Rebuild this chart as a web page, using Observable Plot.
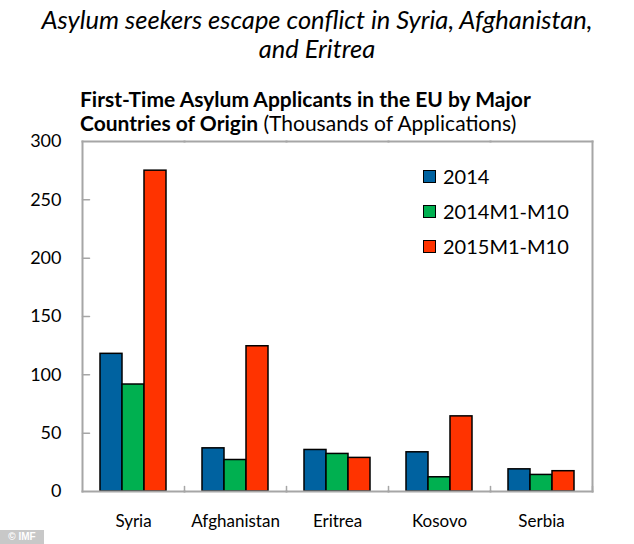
<!DOCTYPE html>
<html>
<head>
<meta charset="utf-8">
<script src="https://cdn.jsdelivr.net/npm/d3@7"></script>
<script src="https://cdn.jsdelivr.net/npm/@observablehq/plot@0.6"></script>
<style>
  html, body { margin: 0; padding: 0; background: #fff; }
  #wrap { position: relative; width: 634px; height: 544px; overflow: hidden; font-family: Lato, "Open Sans", sans-serif; color: #000; }
  #title { position: absolute; left: 0; width: 634px; top: 5px; text-align: center; font-style: italic; font-size: 25.5px; line-height: 29px; }
  #subtitle { position: absolute; left: 80px; top: 87px; font-size: 21px; line-height: 24px; }
  #subtitle b { font-weight: 700; }
  #chart { position: absolute; left: 0; top: 130px; }
  #legend { position: absolute; left: 423px; top: 165px; }
  .lg { position: absolute; left: 0; white-space: nowrap; font-size: 20px; line-height: 24px; }
  .sw { position: absolute; left: 0; top: 5px; width: 11px; height: 11px; border: 1.5px solid #000; }
  .lt { position: absolute; left: 20px; top: -1px; }
  #imf { position: absolute; left: 0; top: 530px; width: 44px; height: 14px; background: #c8c8c8; color: #fff; font: bold 10px "Liberation Sans", Arial, sans-serif; line-height: 14px; text-align: center; }
</style>
</head>
<body>
<div id="wrap">
  <div id="title">Asylum seekers escape conflict in Syria, Afghanistan,<br>and Eritrea</div>
  <div id="subtitle"><b>First-Time Asylum Applicants in the EU by Major</b><br><b>Countries of Origin</b> (Thousands of Applications)</div>
  <div id="chart"></div>
  <div id="legend"></div>
  <div id="imf">© IMF</div>
</div>
<script>
const countries = ["Syria", "Afghanistan", "Eritrea", "Kosovo", "Serbia"];
const seriesNames = ["2014", "2014M1-M10", "2015M1-M10"];
const values2014 = [118, 37, 35.6, 33.6, 19];
const values2014M1M10 = [91.7, 27, 32.2, 12.2, 14.2];
const values2015M1M10 = [275, 124.5, 28.8, 64.4, 17.4];
const seriesColors = ["#0062a0", "#00b050", "#ff3300"];
const yTicks = [0, 50, 100, 150, 200, 250, 300];

const seriesValues = [values2014, values2014M1M10, values2015M1M10];
const data = [];
countries.forEach((c, i) => {
  seriesNames.forEach((s, j) => data.push({country: c, series: s, value: seriesValues[j][i]}));
});

const lineShape = {
  draw(context, l) { context.moveTo(0, 0); context.lineTo(0, -l); }
};
const gray = "#a6a6a6";

const chart = Plot.plot({
  width: 634,
  height: 414,
  marginTop: 11,
  marginBottom: 53,
  marginLeft: 81,
  marginRight: 41,
  style: {fontFamily: "Lato, 'Open Sans', sans-serif", fontSize: "17px", color: "#000", background: "transparent"},
  fx: {domain: countries, padding: 0, label: null},
  x: {domain: seriesNames, paddingInner: 0, paddingOuter: 0.726, axis: null},
  y: {domain: [0, 300], label: null},
  color: {domain: seriesNames, range: seriesColors},
  marks: [
    Plot.barY(data, {fx: "country", x: "series", y: "value", fill: "series", stroke: "#000", strokeWidth: 1.5}),
    Plot.frame({anchor: "top", stroke: gray, strokeWidth: 2}),
    Plot.frame({anchor: "bottom", stroke: gray, strokeWidth: 2}),
    Plot.frame({anchor: "left", stroke: gray, strokeWidth: 2, facetAnchor: "left"}),
    Plot.frame({anchor: "right", stroke: gray, strokeWidth: 2, facetAnchor: "right"}),
    Plot.vector(yTicks.filter(d => d > 0 && d < 300), {y: d => d, frameAnchor: "left", rotate: 90, length: 7, anchor: "start", shape: lineShape, stroke: gray, strokeWidth: 1.5, facetAnchor: "left"}),
    Plot.vector([0], {frameAnchor: "bottom-right", rotate: 0, length: 5, anchor: "start", shape: lineShape, stroke: gray, strokeWidth: 1.5}),
    Plot.axisY(yTicks, {anchor: "left", tickSize: 0, tickPadding: 21, fontSize: 18, label: null}),
    Plot.axisFx({anchor: "bottom", tickSize: 0, tickPadding: 23, fontSize: 17, label: null})
  ]
});
document.getElementById("chart").appendChild(chart);

const legend = document.getElementById("legend");
seriesNames.forEach((s, i) => {
  const row = document.createElement("div");
  row.className = "lg";
  row.style.top = (i * 35) + "px";
  const sw = document.createElement("span");
  sw.className = "sw";
  sw.style.background = seriesColors[i];
  const t = document.createElement("span");
  t.className = "lt";
  t.textContent = s;
  row.appendChild(sw);
  row.appendChild(t);
  legend.appendChild(row);
});
</script>
</body>
</html>
